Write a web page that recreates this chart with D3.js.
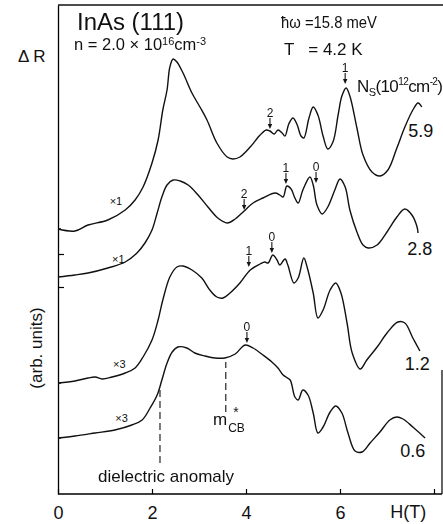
<!DOCTYPE html>
<html>
<head>
<meta charset="utf-8">
<script src="https://cdn.jsdelivr.net/npm/d3@7"></script>
<style>
  body { margin: 0; background: #fff; }
  text { font-family: "Liberation Sans", Arial, sans-serif; fill: #111; }
</style>
</head>
<body>
<div id="chart"></div>
<script>
// magnetic field H (T) and signal dR (arb. units) for each sheet density
const h_59 = [0, 0.36, 0.64, 1.06, 1.43, 1.64, 1.81, 2.00, 2.13, 2.23, 2.32, 2.38, 2.45, 2.53, 2.66, 2.85, 3.02, 3.17, 3.38, 3.60, 3.72, 3.87, 4.09, 4.30, 4.43, 4.51, 4.60, 4.68, 4.77, 4.83, 4.91, 5.00, 5.09, 5.17, 5.23, 5.34, 5.43, 5.53, 5.64, 5.74, 5.85, 5.96, 6.04, 6.13, 6.21, 6.36, 6.49, 6.68, 6.85, 7.02, 7.21, 7.38, 7.55, 7.66, 7.74];
const r_59 = [265, 263, 269, 274, 284, 294, 307, 331, 354, 384, 404, 427, 435, 432, 421, 401, 387, 374, 351, 337, 335, 337, 347, 359, 364, 363, 360, 364, 361, 358, 370, 376, 369, 358, 356, 376, 387, 379, 358, 345, 352, 379, 398, 406, 398, 366, 339, 322, 318, 324, 346, 367, 384, 391, 387];

const h_28 = [0, 0.36, 0.64, 1.06, 1.43, 1.68, 1.85, 2.00, 2.11, 2.21, 2.32, 2.45, 2.60, 2.77, 2.98, 3.19, 3.40, 3.60, 3.77, 3.96, 4.15, 4.36, 4.62, 4.72, 4.79, 4.87, 4.96, 5.04, 5.11, 5.21, 5.36, 5.43, 5.51, 5.62, 5.74, 5.89, 6.00, 6.11, 6.21, 6.36, 6.49, 6.60, 6.79, 7.00, 7.21, 7.38, 7.53, 7.64, 7.66];
const r_28 = [217, 219, 221, 226, 232, 241, 251, 264, 281, 297, 309, 314, 313, 309, 299, 287, 276, 271, 275, 283, 291, 296, 301, 299, 297, 308, 305, 296, 291, 304, 317, 309, 289, 280, 287, 304, 315, 307, 284, 262, 249, 246, 249, 262, 277, 285, 279, 267, 261];

const h_12 = [0, 0.36, 0.64, 0.79, 0.94, 1.15, 1.43, 1.64, 1.81, 2.00, 2.13, 2.23, 2.38, 2.53, 2.66, 2.85, 3.06, 3.23, 3.38, 3.51, 3.66, 3.87, 4.09, 4.30, 4.40, 4.47, 4.57, 4.66, 4.72, 4.83, 4.89, 5.02, 5.11, 5.23, 5.30, 5.43, 5.53, 5.64, 5.79, 5.91, 6.02, 6.15, 6.26, 6.43, 6.57, 6.79, 7.00, 7.23, 7.38, 7.55, 7.70];
const r_12 = [111, 113, 116, 117, 115, 117, 121, 126, 137, 154, 174, 194, 217, 227, 228, 224, 216, 204, 197, 196, 201, 211, 224, 230, 232, 231, 239, 234, 229, 235, 229, 211, 216, 236, 227, 201, 176, 184, 204, 211, 201, 171, 141, 125, 134, 147, 161, 172, 171, 156, 143];

const h_06 = [0, 0.36, 0.79, 1.21, 1.57, 1.79, 1.96, 2.11, 2.21, 2.32, 2.43, 2.55, 2.74, 2.91, 3.13, 3.34, 3.55, 3.77, 3.98, 4.15, 4.36, 4.55, 4.68, 4.79, 4.85, 4.94, 5.04, 5.11, 5.21, 5.32, 5.43, 5.53, 5.64, 5.79, 5.91, 6.04, 6.17, 6.32, 6.47, 6.64, 6.85, 7.06, 7.21, 7.34, 7.55, 7.81];
const r_06 = [56, 58, 61, 64, 69, 74, 86, 99, 114, 131, 142, 147, 146, 141, 138, 136, 136, 140, 149, 146, 139, 132, 126, 119, 117, 114, 97, 94, 104, 99, 81, 61, 67, 82, 88, 81, 61, 43, 42, 51, 62, 74, 77, 75, 67, 56];

// curve labels (N_s in 1e12 cm^-2) and gain factors
const densityLabels = ["5.9", "2.8", "1.2", "0.6"];
const densityLabelH = [7.45, 7.43, 7.38, 7.28];
const densityLabelR = [357, 239, 124, 37];
const gainLabels = ["1", "1", "3", "3"];
const gainH = [1.1, 1.15, 1.17, 1.22];
const gainR = [289, 231, 126, 72];

// Landau level arrows
const arrowLabels = ["2", "1", "2", "1", "0", "1", "0", "0"];
const arrowH = [4.51, 6.11, 3.96, 4.85, 5.49, 4.06, 4.55, 4.02];
const arrowR = [365, 410, 284, 310, 311, 227, 241, 151];

// axis ticks
const xTicks = [0, 2, 4, 6, 8];
const xTickLabels = ["0", "2", "4", "6", ""];
const yTicks = [240, 207];
const yMarks = [265, 111, 56];

const width = 443, height = 524;

const svg = d3.select("#chart")
  .append("svg")
    .attr("width", width)
    .attr("height", height);

const x = d3.scaleLinear().domain([0, 8]).range([58, 434]);
const y = d3.scaleLinear().domain([0, 489]).range([494, 5]);
const xRight = 8.17, rTop = 489;

// frame
const frame = svg.append("g").attr("stroke", "#111").attr("stroke-width", 1.3).attr("fill", "none");
frame.append("line").attr("x1", x(0)).attr("x2", x(xRight) + 1).attr("y1", y(rTop)).attr("y2", y(rTop));
frame.append("line").attr("x1", x(xRight)).attr("x2", x(xRight)).attr("y1", y(124)).attr("y2", y(0));

// X axis
const xAxis = svg.append("g")
  .attr("transform", `translate(0, ${y(0)})`)
  .call(d3.axisBottom(x).tickValues(xTicks).tickSizeInner(-5).tickSizeOuter(0)
    .tickPadding(12).tickFormat((d, i) => xTickLabels[i]));
xAxis.select(".domain").attr("d", `M${x(0)},0H${x(xRight)}`).attr("stroke-width", 1.3);
xAxis.selectAll(".tick line").attr("stroke-width", 1.2);
xAxis.selectAll("text").attr("font-size", 18).attr("font-family", "Liberation Sans, sans-serif");

svg.append("text")
  .attr("x", x(7.45)).attr("y", 518)
  .attr("text-anchor", "middle").attr("font-size", 18)
  .text("H(T)");

// Y axis
const yAxis = svg.append("g")
  .attr("transform", `translate(${x(0)}, 0)`)
  .call(d3.axisLeft(y).tickValues(yTicks).tickSizeInner(-6).tickSizeOuter(0).tickFormat(""));
yAxis.select(".domain").attr("stroke-width", 1.3);
yAxis.selectAll(".tick line").attr("stroke-width", 1.2);
svg.append("g").selectAll("line")
  .data(yMarks)
  .join("line")
    .attr("x1", x(0)).attr("x2", x(0) + 3)
    .attr("y1", d => y(d)).attr("y2", d => y(d))
    .attr("stroke", "#111").attr("stroke-width", 1.5);

svg.append("text")
  .attr("x", 18).attr("y", 62)
  .attr("font-size", 17)
  .text("\u0394 R");

svg.append("text")
  .attr("transform", "translate(42, 348) rotate(-90)")
  .attr("text-anchor", "middle").attr("font-size", 17)
  .text("(arb. units)");

// curves
const series = [
  d3.zip(h_59, r_59),
  d3.zip(h_28, r_28),
  d3.zip(h_12, r_12),
  d3.zip(h_06, r_06)
];
const line = d3.line()
  .x(d => x(d[0]))
  .y(d => y(d[1]))
  .curve(d3.curveCatmullRom.alpha(0.5));

svg.append("g")
  .selectAll("path")
  .data(series)
  .join("path")
    .attr("d", line)
    .attr("fill", "none")
    .attr("stroke", "#111")
    .attr("stroke-width", 1.4)
    .attr("stroke-linejoin", "round");

// density labels
svg.append("g")
  .selectAll("text")
  .data(densityLabels)
  .join("text")
    .attr("x", (d, i) => x(densityLabelH[i]))
    .attr("y", (d, i) => y(densityLabelR[i]))
    .attr("font-size", 18)
    .text(d => d);

// gain labels
svg.append("g")
  .selectAll("text")
  .data(gainLabels)
  .join("text")
    .attr("x", (d, i) => x(gainH[i]))
    .attr("y", (d, i) => y(gainR[i]))
    .attr("font-size", 11)
    .text(d => "\u00d7" + d);

// arrows
const arrows = svg.append("g")
  .attr("opacity", 0.99)
  .selectAll("g")
  .data(arrowLabels)
  .join("g")
    .attr("transform", (d, i) => `translate(${x(arrowH[i])}, ${y(arrowR[i])})`);
arrows.append("line")
  .attr("y1", -11).attr("y2", -3)
  .attr("stroke", "#111").attr("stroke-width", 1.1);
arrows.append("path")
  .attr("d", "M-2.2,-5L2.2,-5L0,0Z")
  .attr("fill", "#111");
arrows.append("text")
  .attr("y", -12)
  .attr("text-anchor", "middle")
  .attr("font-size", 12)
  .text(d => d);

// dashed markers
const dashH = [2.17, 3.57];
const dashR0 = [31, 82];
const dashR1 = [107, 132];
svg.append("g")
  .selectAll("line")
  .data(dashH)
  .join("line")
    .attr("x1", d => x(d)).attr("x2", d => x(d))
    .attr("y1", (d, i) => y(dashR0[i])).attr("y2", (d, i) => y(dashR1[i]))
    .attr("stroke", "#111").attr("stroke-width", 1.1)
    .attr("stroke-dasharray", "7,4");

svg.append("text")
  .attr("x", 98).attr("y", 482)
  .attr("font-size", 17)
  .text("dielectric anomaly");

const mcb = svg.append("text").attr("x", 213).attr("y", 425).attr("font-size", 17);
mcb.append("tspan").text("m");
mcb.append("tspan").attr("font-size", 12).attr("dy", 7).attr("dx", 1).text("CB");
svg.append("text").attr("x", 236).attr("y", 417).attr("text-anchor", "middle")
  .attr("font-size", 14).text("*");

// header texts
svg.append("text")
  .attr("x", 77).attr("y", 30)
  .attr("font-size", 23)
  .attr("textLength", 107).attr("lengthAdjust", "spacingAndGlyphs")
  .text("InAs (111)");

const nText = svg.append("text").attr("x", 74).attr("y", 50).attr("font-size", 16.5);
nText.append("tspan").text("n = 2.0 \u00d7 10");
nText.append("tspan").attr("font-size", 11).attr("dy", -5).text("16");
nText.append("tspan").attr("dy", 5).text("cm");
nText.append("tspan").attr("font-size", 11).attr("dy", -5).text("-3");

svg.append("text")
  .attr("x", 281).attr("y", 28)
  .attr("font-size", 17)
  .attr("textLength", 96).attr("lengthAdjust", "spacingAndGlyphs")
  .text("\u0127\u03c9 =15.8 meV");

svg.append("text")
  .attr("x", 284).attr("y", 55)
  .attr("font-size", 17)
  .attr("xml:space", "preserve")
  .text("T   = 4.2 K");

const nsText = svg.append("text").attr("x", 357).attr("y", 92).attr("font-size", 17)
  .attr("letter-spacing", -0.6);
nsText.append("tspan").text("N");
nsText.append("tspan").attr("font-size", 11).attr("dy", 4).text("S");
nsText.append("tspan").attr("dy", -4).text("(10");
nsText.append("tspan").attr("font-size", 10).attr("dy", -7).text("12");
nsText.append("tspan").attr("dy", 7).text("cm");
nsText.append("tspan").attr("font-size", 10).attr("dy", -7).text("-2");
nsText.append("tspan").attr("dy", 7).text(")");
</script>
</body>
</html>
